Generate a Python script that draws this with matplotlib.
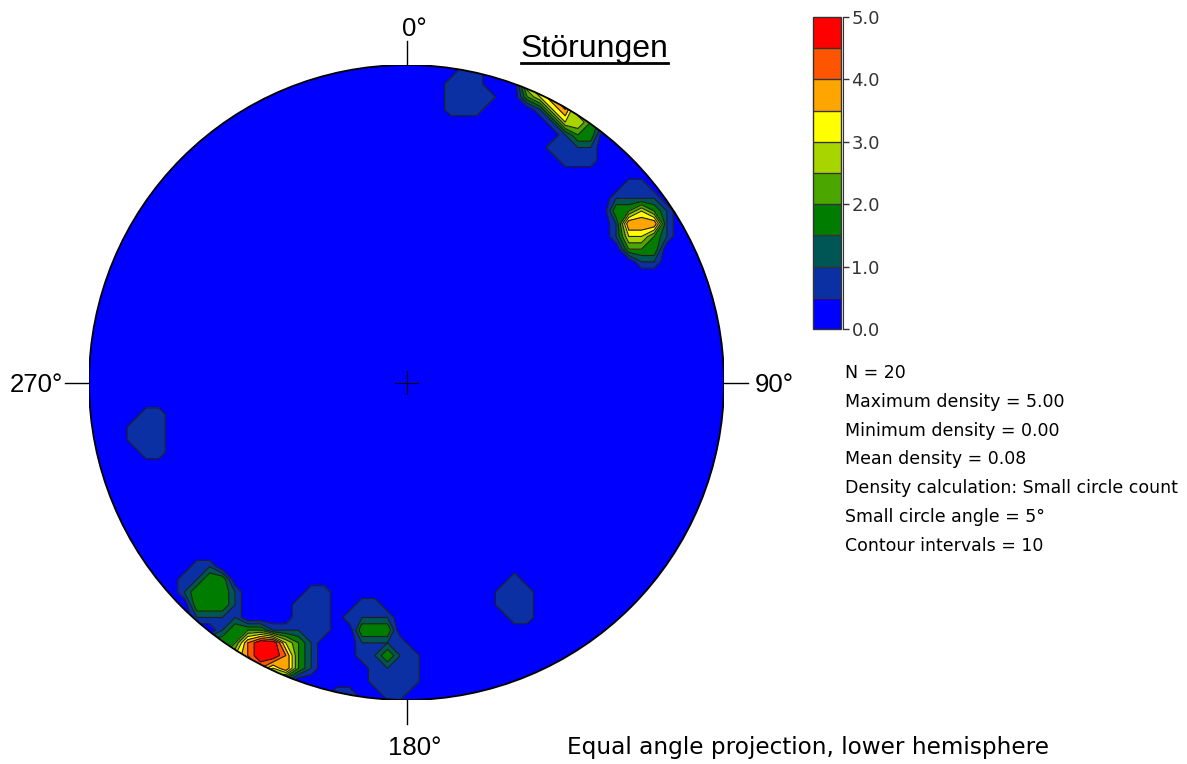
import numpy as np
import matplotlib
matplotlib.use('Agg')
import matplotlib.pyplot as plt
from matplotlib.patches import Circle
from matplotlib.lines import Line2D

# ---------------- data ----------------
# poles (trend / plunge, degrees)
pole_trend = [11.5, 35.5,
              207.0, 205.0, 210.0, 207.5, 203.0, 213.0,
              224.0, 220.7, 202.1,
              53.2, 59.1, 55.0, 57.5,
              259.0, 153.0,
              188.7, 185.8, 182.1]
pole_plunge = [4.5, 4.5,
               0.5, 2.5, 2.0, 3.0, 5.0, 1.0,
               6.0, 5.3, 14.5,
               5.5, 8.5, 8.7, 5.5,
               11.0, 15.0,
               15.7, 11.2, 5.6]
contour_levels = [0.0, 0.5, 1.0, 1.5, 2.0, 2.5, 3.0, 3.5, 4.0, 4.5, 5.0]
band_colors = ['#0000ff', '#0a30a4', '#005555', '#007d00', '#4ca600',
               '#a8d400', '#ffff00', '#ffa500', '#ff5500', '#ff0000']
colorbar_ticks = [0.0, 1.0, 2.0, 3.0, 4.0, 5.0]
direction_angles = [0, 90, 180, 270]
direction_labels = ['0°', '90°', '180°', '270°']
title_text = 'Störungen'
stats_lines = ['N = 20', 'Maximum density = 5.00', 'Minimum density = 0.00',
               'Mean density = 0.08', 'Density calculation: Small circle count',
               'Small circle angle = 5°', 'Contour intervals = 10']
footer_text = 'Equal angle projection, lower hemisphere'
small_circle_angle = 5.0
grid_step = 0.04

# ---------------- figure ----------------
W, H = 1187, 764
fig = plt.figure(figsize=(W / 100, H / 100), dpi=100)
cx, cy, R = 406.5, 382.5, 317.5
ax = fig.add_axes([(cx - R) / W, (H - cy - R) / H, 2 * R / W, 2 * R / H])
ax.set_xlim(-1, 1)
ax.set_ylim(-1, 1)
ax.axis('off')

# density: small circle count on a projection-plane grid (equal angle, lower hemisphere)
t = np.radians(pole_trend)
p = np.radians(pole_plunge)
P = np.stack([np.cos(p) * np.sin(t), np.cos(p) * np.cos(t), np.sin(p)], axis=1)
g = np.arange(-1.1, 1.1 + 1e-9, grid_step)
X, Y = np.meshgrid(g, g)
rr = np.hypot(X, Y)
phi = 2 * np.arctan(rr)
az = np.arctan2(X, Y)
D = np.stack([np.sin(phi) * np.sin(az), np.sin(phi) * np.cos(az), np.cos(phi)], axis=-1)
dots = np.abs(D @ P.T)
Z = (dots >= np.cos(np.radians(small_circle_angle))).sum(axis=-1).astype(float)

clip = Circle((0, 0), 1, transform=ax.transData)
cs = ax.contourf(X, Y, Z, levels=contour_levels, colors=band_colors)
cs.set_clip_path(clip)
cl = ax.contour(X, Y, Z, levels=contour_levels[1:-1], colors='#1e1e1e', linewidths=0.8)
cl.set_clip_path(clip)

ax.add_patch(Circle((0, 0), 1, fill=False, ec='black', lw=1.3, zorder=5))

# direction ticks and labels
label_font = dict(family='Liberation Sans', fontsize=18.5, color='black')
for ang in direction_angles:
    a = np.radians(ang)
    sx, sy = np.sin(a), np.cos(a)
    ax.add_line(Line2D([sx, 1.075 * sx], [sy, 1.075 * sy], color='black', lw=1.0,
                       clip_on=False, zorder=5))
label_pos = {0: (0.025, 1.091, 'center'), 90: (1.098, -0.030, 'left'),
             180: (0.025, -1.173, 'center'), 270: (-1.082, -0.030, 'right')}
for ang, lab in zip(direction_angles, direction_labels):
    lx, ly, ha = label_pos[ang]
    ax.text(lx, ly, lab, ha=ha, va='baseline', clip_on=False, **label_font)

# centre cross
ax.add_line(Line2D([-0.035, 0.035], [0, 0], color='black', lw=0.8, zorder=5))
ax.add_line(Line2D([0, 0], [-0.035, 0.035], color='black', lw=0.8, zorder=5))

# title with underline
tt = fig.text(594.5 / W, (H - 57) / H, title_text, ha='center', va='baseline',
              family='Liberation Sans', fontsize=23, color='black')
fig.canvas.draw()
bb = tt.get_window_extent()
fig.add_artist(Line2D([bb.x0 / W, bb.x1 / W], [(H - 62.5) / H, (H - 62.5) / H],
                      transform=fig.transFigure, color='black', lw=2.0))

# colorbar
cax = fig.add_axes([813 / W, (H - 329) / H, 28 / W, 312 / H])
cb = fig.colorbar(cs, cax=cax, ticks=colorbar_ticks, drawedges=True)
cb.outline.set_edgecolor('#333333')
cb.outline.set_linewidth(1.0)
cb.dividers.set_color('#333333')
cb.dividers.set_linewidth(1.0)
cax.spines['right'].set_visible(True)
cax.spines['right'].set_position(('outward', 1.5))
cax.spines['right'].set_color('#333333')
cax.yaxis.set_ticklabels([f'{v:.1f}' for v in colorbar_ticks])
cax.tick_params(axis='y', length=4, width=1, color='#333333', labelsize=13,
                labelcolor='#333333', pad=2)

# statistics
for i, line in enumerate(stats_lines):
    fig.text(845 / W, (H - 378 - i * 28.8) / H, line, ha='left', va='baseline',
             family='DejaVu Sans', fontsize=12.5, color='black')

fig.text(567 / W, (H - 754) / H, footer_text, ha='left', va='baseline',
         family='DejaVu Sans', fontsize=16.7, color='black')

fig.savefig('out.png', dpi=100)
